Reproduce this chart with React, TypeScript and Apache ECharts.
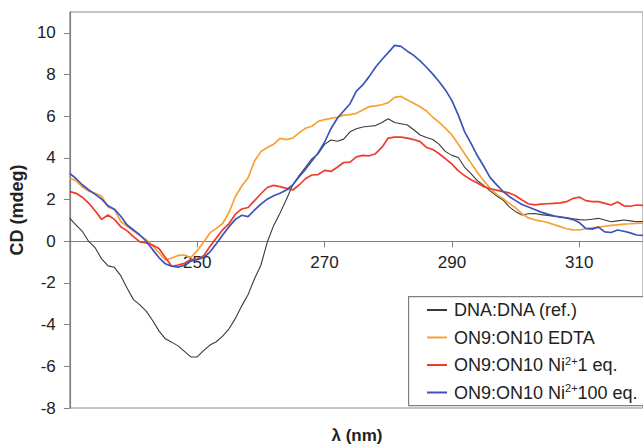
import React, { useEffect, useRef } from "react";
import * as echarts from "echarts";

const wavelengths: number[] = [];
for (let w = 230; w <= 320; w++) wavelengths.push(w);

const seriesNames = [
  "DNA:DNA (ref.)",
  "ON9:ON10 EDTA",
  "ON9:ON10 Ni2+1 eq.",
  "ON9:ON10 Ni2+100 eq.",
];
const seriesColors = ["#3a3a3a", "#f7a135", "#ee3b2b", "#3b54b8"];

const dnaRef = [
  1.10, 0.78, 0.46, -0.02, -0.32, -0.85, -1.18, -1.25, -1.65, -2.25,
  -2.80, -3.05, -3.35, -3.80, -4.30, -4.68, -4.84, -5.02, -5.28, -5.55,
  -5.55, -5.25, -4.98, -4.82, -4.55, -4.20, -3.70, -3.10, -2.55, -1.80,
  -1.15, -0.05, 0.75, 1.35, 2.00, 2.70, 3.15, 3.55, 3.95, 4.20,
  4.65, 4.86, 4.80, 4.90, 5.25, 5.40, 5.48, 5.52, 5.55, 5.70,
  5.88, 5.70, 5.64, 5.58, 5.35, 5.10, 4.98, 4.88, 4.65, 4.30,
  4.12, 4.02, 3.55, 3.25, 2.90, 2.68, 2.42, 2.18, 1.98, 1.65,
  1.42, 1.26, 1.32, 1.33, 1.28, 1.24, 1.20, 1.17, 1.12, 1.08,
  1.04, 1.02, 1.06, 1.10, 1.02, 0.94, 0.98, 1.02, 0.98, 0.94, 0.95,
];

const edta = [
  3.02, 2.90, 2.60, 2.40, 2.30, 2.16, 1.65, 1.52, 0.95, 0.72,
  0.50, 0.28, 0.08, -0.22, -0.55, -0.90, -0.80, -0.68, -0.66, -0.78,
  -0.45, -0.05, 0.40, 0.62, 0.85, 1.38, 2.15, 2.65, 3.05, 3.85,
  4.30, 4.50, 4.65, 4.94, 4.88, 4.95, 5.20, 5.42, 5.52, 5.75,
  5.84, 5.90, 5.95, 6.05, 6.08, 6.14, 6.30, 6.46, 6.50, 6.55,
  6.65, 6.90, 6.95, 6.78, 6.62, 6.45, 6.25, 5.95, 5.70, 5.42,
  5.10, 4.65, 4.20, 3.75, 3.30, 2.90, 2.55, 2.25, 2.05, 1.82,
  1.60, 1.32, 1.12, 1.03, 0.97, 0.90, 0.80, 0.70, 0.60, 0.55,
  0.54, 0.60, 0.64, 0.68, 0.72, 0.76, 0.79, 0.82, 0.84, 0.86, 0.87,
];

const ni1 = [
  2.38, 2.30, 2.10, 1.82, 1.45, 1.05, 1.26, 1.05, 0.70, 0.50,
  0.22, -0.03, -0.08, -0.18, -0.35, -0.78, -1.20, -1.14, -1.06, -0.88,
  -0.85, -0.70, -0.25, 0.15, 0.55, 0.85, 1.30, 1.55, 1.62, 1.95,
  2.28, 2.58, 2.68, 2.62, 2.54, 2.46, 2.70, 3.00, 3.18, 3.20,
  3.40, 3.35, 3.55, 3.78, 3.80, 4.05, 4.12, 4.10, 4.20, 4.50,
  4.95, 5.00, 5.00, 4.95, 4.88, 4.78, 4.50, 4.40, 4.20, 3.95,
  3.70, 3.38, 3.15, 2.95, 2.80, 2.62, 2.52, 2.45, 2.38, 2.32,
  2.18, 1.98, 1.80, 1.75, 1.78, 1.80, 1.82, 1.84, 1.90, 2.05,
  2.12, 1.95, 1.90, 1.90, 1.82, 1.74, 1.88, 1.70, 1.68, 1.74, 1.72,
];

const ni100 = [
  3.26, 3.00, 2.70, 2.46, 2.25, 2.02, 1.70, 1.54, 1.20, 0.78,
  0.54, 0.30, 0.00, -0.40, -0.78, -1.08, -1.20, -1.24, -1.15, -0.95,
  -0.88, -0.78, -0.52, -0.12, 0.30, 0.70, 1.05, 1.25, 1.18, 1.50,
  1.78, 2.02, 2.18, 2.30, 2.46, 2.70, 3.10, 3.45, 3.85, 4.25,
  4.75, 5.40, 5.90, 6.25, 6.60, 7.20, 7.50, 7.90, 8.35, 8.72,
  9.05, 9.40, 9.35, 9.12, 8.92, 8.65, 8.35, 8.02, 7.65, 7.25,
  6.75, 6.05, 5.25, 4.70, 4.10, 3.60, 3.05, 2.72, 2.40, 2.15,
  1.95, 1.76, 1.64, 1.52, 1.40, 1.30, 1.22, 1.16, 1.12, 1.04,
  0.90, 0.62, 0.58, 0.68, 0.45, 0.42, 0.54, 0.48, 0.40, 0.30, 0.28,
];

const yTickValues = [-8, -6, -4, -2, 0, 2, 4, 6, 8, 10];
const xTickValues = [250, 270, 290, 310];

const FONT = '"Liberation Sans", Arial, sans-serif';

const Y_MIN = -8;
const Y_MAX = 11;
const GRID_TOP = 12;
const GRID_BOTTOM = 37;
const CHART_H = 445;

export default function App() {
  const ref = useRef<HTMLDivElement>(null);
  useEffect(() => {
    if (!ref.current) return;
    const chart = echarts.init(ref.current, null, { renderer: "svg" });
    const allValues = [dnaRef, edta, ni1, ni100];
    const plotH = CHART_H - GRID_TOP - GRID_BOTTOM;
    // move the x axis up from the bottom edge to the y = 0 line
    const zeroOffset = -plotH * (0 - Y_MIN) / (Y_MAX - Y_MIN);
    const option = {
      animation: false,
      textStyle: { fontFamily: FONT },
      grid: {
        left: 67,
        top: GRID_TOP,
        right: -5,
        bottom: GRID_BOTTOM,
        show: true,
        borderColor: "#8a8a8a",
        borderWidth: 1,
      },
      xAxis: {
        type: "value",
        min: 230,
        max: 320,
        interval: 20,
        position: "bottom",
        offset: zeroOffset,
        axisLine: { onZero: false, lineStyle: { color: "#808080", width: 1.2 } },
        axisTick: {
          show: true,
          inside: false,
          length: 6,
          customValues: xTickValues,
          lineStyle: { color: "#808080" },
        },
        axisLabel: {
          customValues: xTickValues,
          margin: 13,
          fontSize: 17,
          color: "#222",
          fontFamily: FONT,
        },
        splitLine: { show: false },
      },
      yAxis: {
        type: "value",
        min: Y_MIN,
        max: Y_MAX,
        interval: 2,
        name: "CD (mdeg)",
        nameLocation: "middle",
        nameRotate: 90,
        nameGap: 37,
        nameTextStyle: {
          fontSize: 18,
          fontWeight: "bold",
          color: "#222",
          fontFamily: FONT,
        },
        axisLine: { show: true, lineStyle: { color: "#808080", width: 1.2 } },
        axisTick: {
          show: true,
          inside: false,
          length: 6,
          customValues: yTickValues,
          lineStyle: { color: "#808080" },
        },
        axisLabel: {
          customValues: yTickValues,
          margin: 14,
          fontSize: 17,
          color: "#222",
          fontFamily: FONT,
        },
        splitLine: { show: false },
      },
      legend: {
        orient: "vertical",
        left: 408,
        top: 296,
        padding: [4, 10, 2, 19],
        itemGap: 7.5,
        itemWidth: 20,
        itemHeight: 2,
        icon: "rect",
        borderWidth: 0,
        data: seriesNames,
        z: 20,
        formatter: (name: string) => name.replace("2+", "{sup|2+}"),
        textStyle: {
          fontSize: 18,
          lineHeight: 20,
          color: "#222",
          fontFamily: FONT,
          padding: [0, 0, 0, 2],
          rich: {
            sup: {
              fontSize: 11,
              lineHeight: 11,
              verticalAlign: "top",
              color: "#222",
              fontFamily: FONT,
            },
          },
        },
      },
      graphic: [
        {
          type: "rect",
          left: 408,
          top: 296,
          z: 10,
          shape: { width: 260, height: 109 },
          style: { fill: "#ffffff", stroke: "#808080", lineWidth: 1.2 },
        },
        {
          type: "text",
          x: 357,
          y: 435,
          style: {
            text: "λ (nm)",
            align: "center",
            verticalAlign: "middle",
            fontSize: 17,
            fontWeight: "bold",
            fontFamily: FONT,
            fill: "#222",
          },
        },
      ],
      series: seriesNames.map((name, i) => ({
        name,
        type: "line",
        showSymbol: false,
        symbol: "none",
        color: seriesColors[i],
        lineStyle: { width: i === 0 ? 1.1 : 1.7, color: seriesColors[i] },
        data: wavelengths.map((w, k) => [w, allValues[i][k]]),
        z: 2 + i,
      })),
    };
    chart.setOption(option as any);
    return () => chart.dispose();
  }, []);
  return (
    <div
      ref={ref}
      style={{ position: "absolute", left: 0, top: 0, width: 643, height: 445, background: "#fff" }}
    />
  );
}
